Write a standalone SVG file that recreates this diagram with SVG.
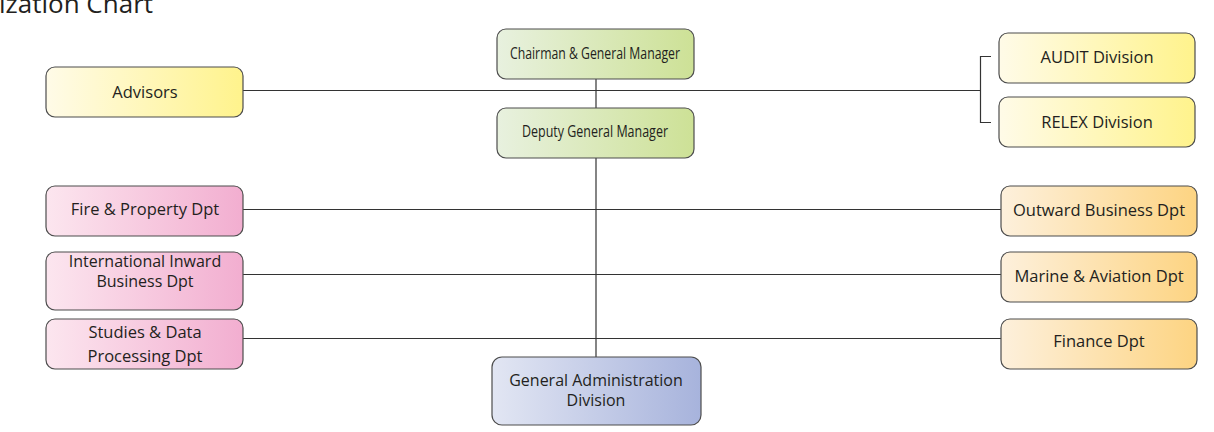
<svg xmlns="http://www.w3.org/2000/svg" width="1214" height="432" viewBox="0 0 1214 432">
<style>
.box{stroke:#4d4d4d;stroke-width:1.2}
.t{font-family:"Open Sans","Liberation Sans",sans-serif;font-size:16.5px;fill:#231f20;text-anchor:middle}
.t2{font-size:16px}
.c{stroke:#333;stroke-width:1.2;fill:none}
.title{font-family:"Open Sans","Liberation Sans",sans-serif;font-size:26px;fill:#231f20}
</style>
<defs>
<linearGradient id="gy" x1="0" x2="1"><stop offset="0" stop-color="#fffbe8"/><stop offset="1" stop-color="#fff38c"/></linearGradient>
<linearGradient id="gg" x1="0" x2="1"><stop offset="0" stop-color="#e8f1df"/><stop offset="1" stop-color="#cde196"/></linearGradient>
<linearGradient id="gp" x1="0" x2="1"><stop offset="0" stop-color="#fce6ef"/><stop offset="1" stop-color="#f2aed0"/></linearGradient>
<linearGradient id="go" x1="0" x2="1"><stop offset="0" stop-color="#fdf0dc"/><stop offset="1" stop-color="#fdd482"/></linearGradient>
<linearGradient id="gb" x1="0" x2="1"><stop offset="0" stop-color="#e2e6f3"/><stop offset="1" stop-color="#a7b3dc"/></linearGradient>
</defs>
<text class="title" x="-1" y="13">ization Chart</text>
<g id="connectors">
<line class="c" x1="243" y1="90.5" x2="980" y2="90.5"/>
<path class="c" d="M991 56.5H980.5V122.5H991"/>
<line class="c" x1="596" y1="79" x2="596" y2="108"/>
<line class="c" x1="596" y1="158" x2="596" y2="357"/>
<line class="c" x1="243" y1="209.5" x2="1001" y2="209.5"/>
<line class="c" x1="243" y1="274.5" x2="1001" y2="274.5"/>
<line class="c" x1="243" y1="338.5" x2="1001" y2="338.5"/>
</g>
<g id="advisors"><rect class="box" x="46" y="67" width="197" height="50" rx="9" fill="url(#gy)"/><text class="t" x="145" y="98">Advisors</text></g>
<g id="chairman"><rect class="box" x="497" y="29" width="197" height="50" rx="9" fill="url(#gg)"/><text class="t" x="595" y="59" font-size="14" textLength="170" lengthAdjust="spacingAndGlyphs">Chairman &amp; General Manager</text></g>
<g id="deputy"><rect class="box" x="497" y="108" width="197" height="50" rx="9" fill="url(#gg)"/><text class="t" x="595" y="137" font-size="14" textLength="146" lengthAdjust="spacingAndGlyphs">Deputy General Manager</text></g>
<g id="audit"><rect class="box" x="999" y="33" width="196" height="50" rx="9" fill="url(#gy)"/><text class="t" x="1097" y="63">AUDIT Division</text></g>
<g id="relex"><rect class="box" x="999" y="97" width="196" height="50" rx="9" fill="url(#gy)"/><text class="t" x="1097" y="128">RELEX Division</text></g>
<g id="fire"><rect class="box" x="46" y="186" width="197" height="50" rx="9" fill="url(#gp)"/><text class="t" x="145" y="215">Fire &amp; Property Dpt</text></g>
<g id="intl"><rect class="box" x="46" y="252" width="197" height="58" rx="9" fill="url(#gp)"/><text class="t t2" x="145" y="267">International Inward</text><text class="t t2" x="145" y="287">Business Dpt</text></g>
<g id="studies"><rect class="box" x="46" y="319" width="197" height="50" rx="9" fill="url(#gp)"/><text class="t" x="145" y="338">Studies &amp; Data</text><text class="t" x="145" y="362">Processing Dpt</text></g>
<g id="outward"><rect class="box" x="1001" y="186" width="196" height="50" rx="9" fill="url(#go)"/><text class="t" x="1099" y="216">Outward Business Dpt</text></g>
<g id="marine"><rect class="box" x="1001" y="252" width="196" height="50" rx="9" fill="url(#go)"/><text class="t" x="1099" y="282">Marine &amp; Aviation Dpt</text></g>
<g id="finance"><rect class="box" x="1001" y="319" width="196" height="50" rx="9" fill="url(#go)"/><text class="t" x="1099" y="347">Finance Dpt</text></g>
<g id="genadmin"><rect class="box" x="492" y="357" width="209" height="68" rx="10" fill="url(#gb)"/><text class="t t2" x="596" y="386">General Administration</text><text class="t t2" x="596" y="406">Division</text></g>
</svg>
